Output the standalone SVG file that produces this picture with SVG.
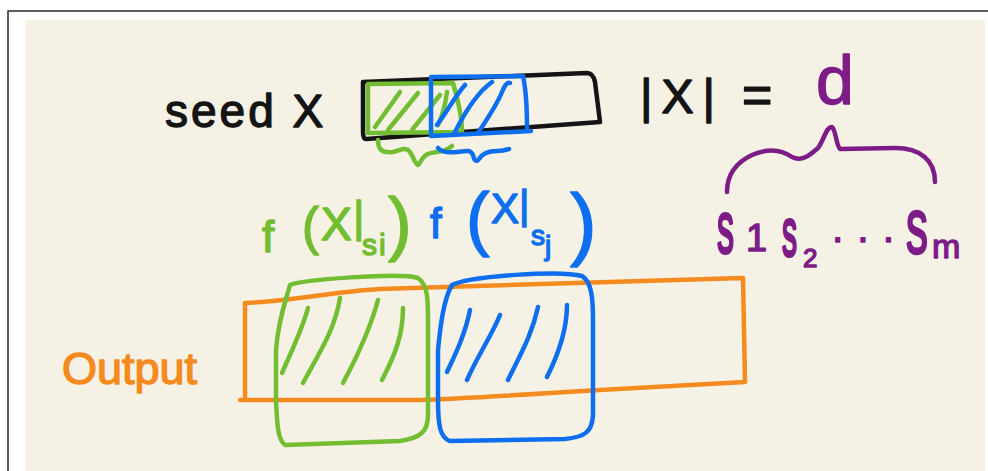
<svg xmlns="http://www.w3.org/2000/svg" width="988" height="471" viewBox="0 0 988 471">
  <style>
    .ink { fill: none; stroke-width: 4.5; stroke-linecap: round; stroke-linejoin: round; }
    .k { stroke: #141414; }
    .g { stroke: #72bd32; }
    .b { stroke: #0d6ff0; }
    .o { stroke: #f58a1f; }
    .p { stroke: #7d1b87; }
    .t { font-family: "Liberation Sans", Arial, sans-serif; stroke-width: 1.4; stroke-linejoin: round; }
    .tk { fill: #141414; stroke: #141414; }
    .tg { fill: #72bd32; stroke: #72bd32; }
    .tb { fill: #0d6ff0; stroke: #0d6ff0; }
    .to { fill: #f58a1f; stroke: #f58a1f; }
    .tp { fill: #7d1b87; stroke: #7d1b87; }
  </style>
  <rect x="0" y="0" width="988" height="471" fill="#ffffff"/>
  <rect x="25" y="20" width="960" height="451" fill="#f5f2e5"/>
  <path d="M8,471 L8,11 L988,11" fill="none" stroke="#2a2a2a" stroke-width="1.5"/>

  <g id="seed">
    <text class="t tk" x="165" y="127" font-size="46" letter-spacing="3">seed X</text>
    <path class="ink k" d="M363,82 L587,73 C592,73 594,77 595,82 L600,122 L366,139 C364,139 363,136 363,132 Z"/>
  </g>

  <g id="seed-green">
    <path class="ink g" d="M368,84 L453,83 C458,100 462,115 462,132 L368,133 Z"/>
    <path class="ink g" d="M375,127 L400,92 M388,130 L418,93 M412,130 L440,95 M438,125 C444,112 446,100 447,92"/>
    <path class="ink g" d="M378,140 C378,150 382,153 393,152 C400,151 403,147 408,150 C413,154 414,163 418,165 C421,163 421,157 428,154 C436,151 445,153 452,146"/>
  </g>

  <g id="seed-blue">
    <path class="ink b" d="M431,77 L523,76 C526,90 527,110 527,128 M431,77 L431,136 L531,131"/>
    <path class="ink b" d="M437,125 C448,110 456,95 465,85 M455,132 C466,110 478,92 492,82 M478,133 C488,118 498,102 502,92 C505,84 508,82 510,83"/>
    <path class="ink b" d="M438,148 C441,152 447,153 457,152 C466,151 470,149 473,155 C474,160 476,163 479,159 C482,154 487,151 497,151 C503,151 506,150 509,149"/>
  </g>

  <g id="size">
    <text class="t tk" y="113" font-size="48"><tspan x="640" letter-spacing="9">|X| </tspan><tspan x="742" font-size="52">= </tspan><tspan class="tp" x="816" y="104" font-size="68">d</tspan></text>
  </g>

  <g id="subsets">
    <path class="ink p" d="M727,192 C727,175 735,163 752,155 C768,148 782,150 792,157 C802,162 810,155 818,148 C824,140 826,127 832,127 C836,130 836,145 840,149 L895,148 C920,148 935,160 935,182"/>
    <text class="t tp" font-size="34" transform="translate(717,253) scale(1,2.2)">s</text>
    <text class="t tp" x="746" y="251" font-size="38">1</text>
    <text class="t tp" font-size="30" transform="translate(782,256) scale(1,2.3)">s</text>
    <text class="t tp" x="803" y="267" font-size="26">2</text>
    <text class="t tp" x="831" y="251" font-size="40" letter-spacing="12">···</text>
    <text class="t tp" font-size="44" transform="translate(906,253) scale(1,1.75)">s</text>
    <text class="t tp" x="932" y="258" font-size="34">m</text>
  </g>

  <g id="label-f-si">
    <text class="t tg"><tspan x="262" y="252" font-size="44">f</tspan><tspan x="302" y="244" font-size="51">(</tspan><tspan x="321" y="240" font-size="46">X</tspan><tspan x="353" y="232" font-size="44">|</tspan><tspan x="362" y="255" font-size="30">s</tspan><tspan x="379" y="255" font-size="30">i</tspan><tspan x="388" y="247" font-size="71">)</tspan></text>
  </g>

  <g id="label-f-sj">
    <text class="t tb"><tspan x="430" y="238" font-size="42">f</tspan><tspan x="466" y="242" font-size="71">(</tspan><tspan x="491" y="223" font-size="42">X</tspan><tspan x="519" y="219" font-size="40">|</tspan><tspan x="531" y="245" font-size="28">s</tspan><tspan x="545" y="255" font-size="28">j</tspan><tspan x="570" y="250" font-size="80">)</tspan></text>
  </g>

  <g id="output">
    <text class="t to" x="62" y="384" font-size="45">Output</text>
    <path class="ink o" d="M245,303 C300,300 330,292 380,289 L743,278 L745,382 L600,390 C520,395 450,399 420,400 L240,400 M245,303 L245,400"/>
  </g>

  <g id="out-green">
    <path class="ink g" d="M290,285 C300,280 400,272 418,278 C428,285 428,300 428,320 L428,415 C428,432 420,438 400,441 L285,445 C278,440 277,425 276,400 L276,350 C278,320 286,300 290,285 Z"/>
    <path class="ink g" d="M282,373 C292,350 302,330 308,308 M303,383 C318,355 335,330 340,298 M343,383 C358,355 370,330 378,300 M382,380 C395,355 403,335 403,308"/>
  </g>

  <g id="out-blue">
    <path class="ink b" d="M452,285 C470,276 560,270 582,276 C592,282 593,300 593,320 L593,415 C592,432 585,437 565,439 L450,441 C440,438 438,425 438,400 L438,350 C440,330 443,300 452,285 Z"/>
    <path class="ink b" d="M447,372 C455,355 465,335 470,310 M467,380 C478,355 492,335 500,315 M508,380 C520,355 532,335 538,307 M547,377 C558,355 567,330 567,305"/>
  </g>
</svg>
